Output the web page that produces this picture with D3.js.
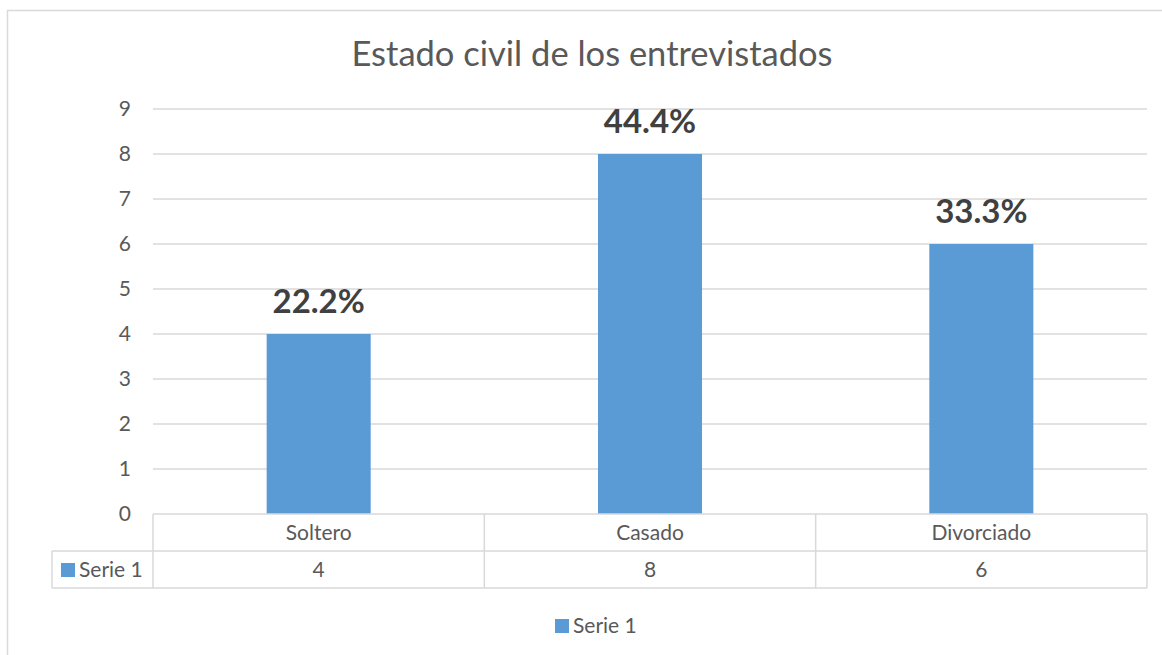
<!DOCTYPE html>
<html>
<head>
<meta charset="utf-8">
<script src="https://cdn.jsdelivr.net/npm/d3@7"></script>
<style>
  body { margin: 0; background: #fff; }
  svg { display: block; }
</style>
</head>
<body>
<svg id="chart" width="1162" height="655"></svg>
<script>
const categories = ["Soltero", "Casado", "Divorciado"]
const values = [4, 8, 6]
const pctLabels = ["22.2%", "44.4%", "33.3%"]
const yTicks = [0, 1, 2, 3, 4, 5, 6, 7, 8, 9]
const seriesName = "Serie 1"

const width = 1162
const height = 655
const font = "Lato, 'Open Sans', sans-serif"
const textColor = "#595959"
const gridColor = "#D9D9D9"
const barColor = "#5B9BD5"

const margin = { left: 153, right: 15, top: 109, bottom: 141 }
const plotRight = width - margin.right
const plotBottom = height - margin.bottom
const rowH = 37

const svg = d3.select("#chart")

// chart border (runs off the right and bottom edge)
svg.append("rect")
    .attr("x", 7.5).attr("y", 10.5)
    .attr("width", width + 20).attr("height", height + 20)
    .attr("fill", "white")
    .attr("stroke", gridColor)
    .attr("stroke-width", 1.5)

const x = d3.scaleBand()
    .domain(categories)
    .range([margin.left, plotRight])
    .paddingInner(0)
    .paddingOuter(0)

const y = d3.scaleLinear()
    .domain([0, 9])
    .range([plotBottom, margin.top])

// gridlines
svg.append("g")
    .selectAll("line")
    .data(yTicks.filter(d => d > 0))
    .join("line")
    .attr("x1", margin.left).attr("x2", plotRight)
    .attr("y1", d => y(d)).attr("y2", d => y(d))
    .attr("stroke", gridColor)
    .attr("stroke-width", 1.5)

// y tick labels
svg.append("g")
    .attr("font-family", font)
    .attr("font-size", 21)
    .attr("fill", textColor)
    .attr("text-anchor", "end")
    .selectAll("text")
    .data(yTicks)
    .join("text")
    .attr("x", 131)
    .attr("y", d => y(d) + 7)
    .text(d => d)

// bars
const barW = x.bandwidth() * 0.314
svg.append("g")
    .selectAll("rect")
    .data(values)
    .join("rect")
    .attr("x", (d, i) => x(categories[i]) + x.bandwidth() / 2 - barW / 2)
    .attr("y", d => y(d))
    .attr("width", barW)
    .attr("height", d => y(0) - y(d))
    .attr("fill", barColor)

// percentage labels
svg.append("g")
    .attr("font-family", font)
    .attr("font-size", 33)
    .attr("font-weight", "bold")
    .attr("fill", "#404040")
    .attr("text-anchor", "middle")
    .selectAll("text")
    .data(values)
    .join("text")
    .attr("x", (d, i) => x(categories[i]) + x.bandwidth() / 2)
    .attr("y", d => y(d) - 21)
    .text((d, i) => pctLabels[i])

// data table
const table = svg.append("g")
    .attr("stroke", gridColor)
    .attr("stroke-width", 1.5)
    .attr("fill", "none")
const t0 = plotBottom
const tableLeft = 52
table.append("line").attr("x1", margin.left).attr("x2", plotRight).attr("y1", t0).attr("y2", t0)
table.append("line").attr("x1", tableLeft).attr("x2", plotRight).attr("y1", t0 + rowH).attr("y2", t0 + rowH)
table.append("line").attr("x1", tableLeft).attr("x2", plotRight).attr("y1", t0 + 2 * rowH).attr("y2", t0 + 2 * rowH)
table.append("line").attr("x1", tableLeft).attr("x2", tableLeft).attr("y1", t0 + rowH).attr("y2", t0 + 2 * rowH)
table.selectAll(".v")
    .data(categories.map(c => x(c)).concat([plotRight]))
    .join("line")
    .attr("x1", d => d).attr("x2", d => d)
    .attr("y1", t0).attr("y2", t0 + 2 * rowH)

const tText = svg.append("g")
    .attr("font-family", font)
    .attr("font-size", 21)
    .attr("fill", textColor)
    .attr("text-anchor", "middle")
tText.selectAll(".cat")
    .data(categories)
    .join("text")
    .attr("x", d => x(d) + x.bandwidth() / 2)
    .attr("y", t0 + 26)
    .text(d => d)
tText.selectAll(".val")
    .data(values)
    .join("text")
    .attr("x", (d, i) => x(categories[i]) + x.bandwidth() / 2)
    .attr("y", t0 + rowH + 26)
    .text(d => d)

// series key in table
svg.append("rect")
    .attr("x", 61).attr("y", t0 + rowH + 12)
    .attr("width", 14).attr("height", 14)
    .attr("fill", barColor)
svg.append("text")
    .attr("x", 79).attr("y", t0 + rowH + 26)
    .attr("font-family", font).attr("font-size", 21)
    .attr("fill", textColor)
    .text(seriesName)

// legend
svg.append("rect")
    .attr("x", 555).attr("y", 619)
    .attr("width", 14).attr("height", 14)
    .attr("fill", barColor)
svg.append("text")
    .attr("x", 573).attr("y", 633)
    .attr("font-family", font).attr("font-size", 21)
    .attr("fill", textColor)
    .text(seriesName)

// title
svg.append("text")
    .attr("x", 592).attr("y", 66)
    .attr("text-anchor", "middle")
    .attr("font-family", font)
    .attr("font-size", 34.5)
    .attr("fill", textColor)
    .text("Estado civil de los entrevistados")
</script>
</body>
</html>
